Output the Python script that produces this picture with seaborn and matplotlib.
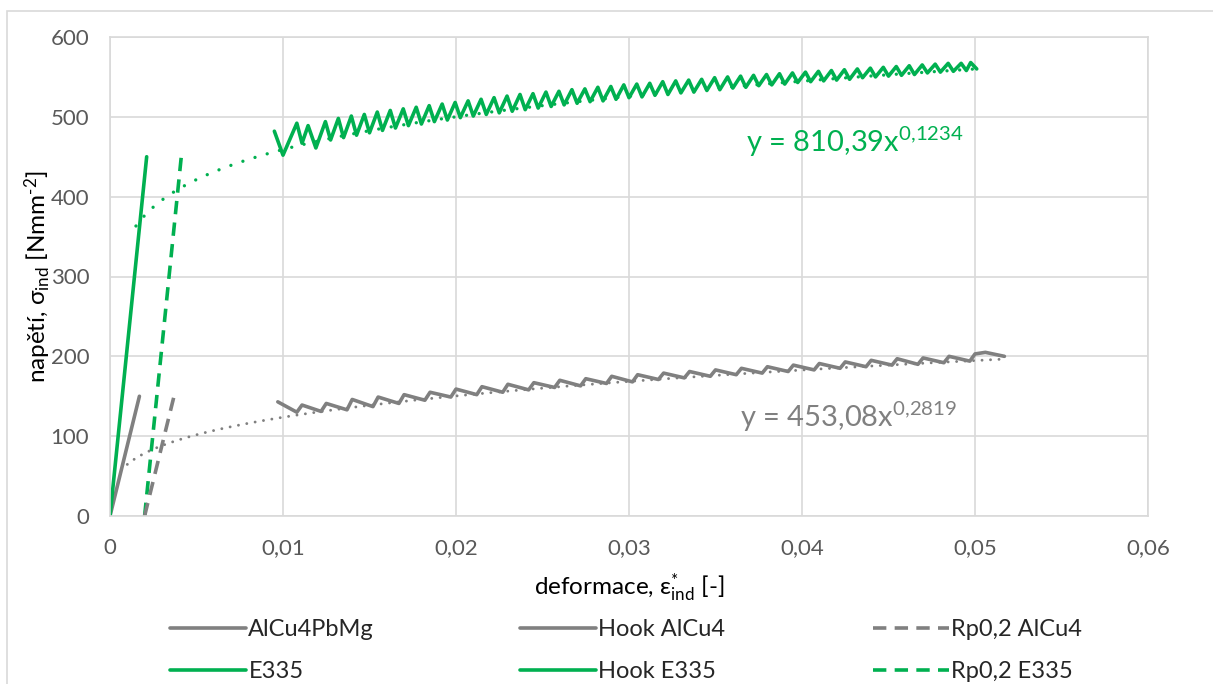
import numpy as np
import pandas as pd
import matplotlib
matplotlib.use("Agg")
import matplotlib.pyplot as plt
import seaborn as sns
from matplotlib.patches import Rectangle

# ---------------------------------------------------------------- data
# AlCu4PbMg cyclic indentation record: strain, stress [N/mm2]
alcu_strain = [0.0097, 0.0108, 0.0111, 0.0122, 0.0125, 0.0137, 0.0140, 0.0152,
               0.0155, 0.0167, 0.0170, 0.0182, 0.0185, 0.0197, 0.0200, 0.0212,
               0.0215, 0.0227, 0.0230, 0.0242, 0.0245, 0.0257, 0.0260, 0.0272,
               0.0275, 0.0287, 0.0290, 0.0302, 0.0305, 0.0317, 0.0320, 0.0332,
               0.0335, 0.0347, 0.0350, 0.0362, 0.0365, 0.0377, 0.0380, 0.0392,
               0.0395, 0.0407, 0.0410, 0.0422, 0.0425, 0.0437, 0.0440, 0.0452,
               0.0455, 0.0467, 0.0470, 0.0482, 0.0485, 0.0497, 0.0500, 0.0506,
               0.0517]
alcu_stress = [143, 130, 139, 131, 141, 133, 146, 137,
               149, 141, 152, 145, 155, 149, 159, 152,
               162, 155, 165, 158, 167, 161, 170, 163,
               172, 166, 175, 168, 177, 171, 179, 173,
               181, 175, 183, 177, 185, 179, 187, 181,
               189, 183, 191, 185, 193, 187, 195, 189,
               197, 190, 198, 192, 200, 194, 203, 205,
               200]

# E335 cyclic indentation record: strain, stress [N/mm2]
e335_strain = [0.0095, 0.0100, 0.0108, 0.0111, 0.01145, 0.0119,
               0.01245, 0.01275, 0.0132, 0.0135, 0.01395, 0.01425,
               0.0147, 0.0150, 0.01545, 0.01575, 0.0162, 0.0165,
               0.01695, 0.01725, 0.0177, 0.0180, 0.01845, 0.01875,
               0.0192, 0.0195, 0.01995, 0.02025, 0.0207, 0.0210,
               0.02145, 0.02175, 0.0222, 0.0225, 0.02295, 0.02325,
               0.0237, 0.0240, 0.02445, 0.02475, 0.0252, 0.0255,
               0.02595, 0.02625, 0.0267, 0.0270, 0.02745, 0.02775,
               0.0282, 0.0285, 0.02895, 0.02925, 0.0297, 0.0300,
               0.03045, 0.03075, 0.0312, 0.0315, 0.03195, 0.03225,
               0.0327, 0.0330, 0.03345, 0.03375, 0.0342, 0.0345,
               0.03495, 0.03525, 0.0357, 0.0360, 0.03645, 0.03675,
               0.0372, 0.0375, 0.03795, 0.03825, 0.0387, 0.0390,
               0.03945, 0.03975, 0.0402, 0.0405, 0.04095, 0.04125,
               0.0417, 0.0420, 0.04245, 0.04275, 0.0432, 0.0435,
               0.04395, 0.04425, 0.0447, 0.0450, 0.04545, 0.04575,
               0.0462, 0.0465, 0.04695, 0.04725, 0.0477, 0.0480,
               0.04845, 0.04875, 0.0492, 0.0495, 0.04975, 0.0501]
e335_stress = [482, 452, 492, 467, 489, 461,
               494, 471, 498, 474, 501, 477,
               503, 480, 506, 483, 508, 486,
               510, 489, 512, 491, 514, 494,
               516, 496, 518, 499, 520, 501,
               522, 503, 524, 505, 526, 507,
               528, 509, 529, 511, 531, 513,
               532, 515, 534, 517, 535, 519,
               537, 520, 538, 522, 540, 524,
               541, 525, 542, 527, 544, 528,
               545, 530, 546, 531, 547, 533,
               549, 534, 550, 536, 551, 537,
               552, 539, 553, 540, 554, 541,
               555, 543, 556, 544, 557, 545,
               558, 546, 559, 547, 560, 549,
               561, 550, 562, 551, 563, 552,
               564, 553, 565, 555, 566, 556,
               567, 557, 567, 558, 568, 560]

# Hooke's law lines and 0.2 % offset lines
hook_alcu_strain = [0.0, 0.0017]
hook_alcu_stress = [0, 150]
hook_e335_strain = [0.0, 0.00212]
hook_e335_stress = [0, 450]
rp_alcu_strain = [0.002, 0.0037]
rp_alcu_stress = [0, 150]
rp_e335_strain = [0.002, 0.00412]
rp_e335_stress = [0, 450]

# power-law fits  y = a * x^b  and their strain ranges
fit_alcu_a, fit_alcu_b = 453.08, 0.2819
fit_e335_a, fit_e335_b = 810.39, 0.1234
fit_alcu_range = (0.0010, 0.0517)
fit_e335_range = (0.0015, 0.0500)

x_ticks = [0, 0.01, 0.02, 0.03, 0.04, 0.05, 0.06]
x_tick_labels = ["0", "0,01", "0,02", "0,03", "0,04", "0,05", "0,06"]
y_ticks = [0, 100, 200, 300, 400, 500, 600]
y_tick_labels = ["0", "100", "200", "300", "400", "500", "600"]

# ---------------------------------------------------------------- style
GRAY = "#808080"
GREEN = "#00B050"
GRID = "#D9D9D9"
TXT = "#595959"

sns.set_theme(style="white")
plt.rcParams["font.family"] = ["Lato", "DejaVu Sans"]
plt.rcParams["mathtext.fontset"] = "custom"
plt.rcParams["mathtext.rm"] = "Lato"
plt.rcParams["mathtext.it"] = "Lato:italic"
plt.rcParams["mathtext.bf"] = "Lato:bold"

W, H = 1213, 684
fig = plt.figure(figsize=(W / 100, H / 100), dpi=100)
L, R, T, B = 110, 1148, 37, 516
ax = fig.add_axes([L / W, 1 - B / H, (R - L) / W, (B - T) / H])

# outer chart border
fig.add_artist(Rectangle((7 / W, -0.05), 1.2, 1 - 11 / H + 0.05,
                         transform=fig.transFigure, fill=False,
                         edgecolor=GRID, lw=1.2))

LW = 2.6
DASH = (0, (3.7, 2.3))

def line(xs, ys, color, label=None, ls="-", lw=LW, **kw):
    df = pd.DataFrame({"x": xs, "y": ys})
    sns.lineplot(data=df, x="x", y="y", ax=ax, color=color, linestyle=ls,
                 lw=lw, sort=False, estimator=None, label=label,
                 solid_joinstyle="round", solid_capstyle="round", **kw)

line(alcu_strain, alcu_stress, GRAY, "AlCu4PbMg")
line(e335_strain, e335_stress, GREEN, "E335")
line(hook_alcu_strain, hook_alcu_stress, GRAY, "Hook AlCu4")
line(hook_e335_strain, hook_e335_stress, GREEN, "Hook E335")
line(rp_e335_strain, rp_e335_stress, GREEN, "Rp0,2 E335", ls=DASH)
line(rp_alcu_strain, rp_alcu_stress, GRAY, "Rp0,2 AlCu4", ls=DASH)

# power-law trend curves
xa = np.geomspace(*fit_alcu_range, 200)
xe = np.geomspace(*fit_e335_range, 200)
line(xa, fit_alcu_a * xa ** fit_alcu_b, GRAY, ls=(0, (0.01, 2.9)), lw=2.1,
     dash_capstyle="round")
line(xe, fit_e335_a * xe ** fit_e335_b, GREEN, ls=(0, (0.01, 3.8)), lw=2.4,
     dash_capstyle="round")

if ax.get_legend() is not None:
    ax.get_legend().remove()

# ---------------------------------------------------------------- axes
ax.set_xlim(0, 0.06)
ax.set_ylim(0, 600)
ax.set_xticks(x_ticks)
ax.set_xticklabels(x_tick_labels)
ax.set_yticks(y_ticks)
ax.set_yticklabels(y_tick_labels)
ax.grid(True, color=GRID, lw=1.2)
for s in ax.spines.values():
    s.set_color(GRID)
    s.set_linewidth(1.2)
ax.tick_params(axis="both", length=0, labelsize=16, labelcolor=TXT)
ax.tick_params(axis="x", pad=16)
ax.tick_params(axis="y", pad=15)

ax.set_xlabel("deformace, ε$^{*}_{\\mathrm{ind}}$ [-]", fontsize=17.5, color="#000000")
ax.set_ylabel("napětí, σ$_{\\mathrm{ind}}$ [Nmm$^{\\mathrm{‐2}}$]", fontsize=17.5, color="#000000")
ax.xaxis.label.set_va("center")
ax.yaxis.label.set_va("center")
ax.xaxis.set_label_coords(0.5, (B - 588) / (B - T))
ax.yaxis.set_label_coords((38 - L) / (R - L), 0.5)

def fit_label(a, b, x, y, color):
    sa = f"{a:.2f}".replace(".", ",")
    sb = f"{b:.4f}".replace(".", "{,}")
    ax.text(x, y, f"y = {sa}x$^{{{sb}}}$", color=color, fontsize=21,
            va="baseline", ha="left")

fit_label(fit_e335_a, fit_e335_b, 0.03676, 456, GREEN)
fit_label(fit_alcu_a, fit_alcu_b, 0.03642, 111.5, GRAY)

# ---------------------------------------------------------------- legend
handles = {l.get_label(): l for l in ax.get_lines()}
columns = [(170, ["AlCu4PbMg", "E335"]),
           (520, ["Hook AlCu4", "Hook E335"]),
           (873, ["Rp0,2 AlCu4", "Rp0,2 E335"])]
for x0, names in columns:
    fig.legend([handles[n] for n in names], names, loc="upper left",
               bbox_to_anchor=(x0 / W, 1 - 619 / H), frameon=False,
               borderpad=0, borderaxespad=0, handlelength=3.2,
               handletextpad=0.12, labelspacing=0.9, fontsize=17)

fig.savefig("out.png", dpi=100)
